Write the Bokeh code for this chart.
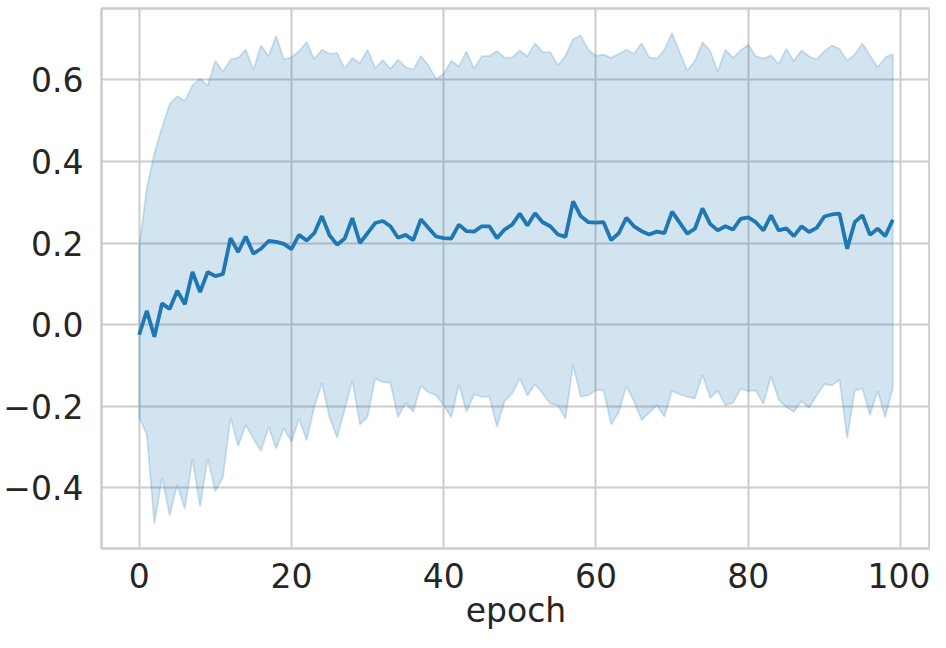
from bokeh.plotting import figure
from bokeh.models import FixedTicker, Range1d
from bokeh.embed import file_html
from bokeh.resources import INLINE

epochs = list(range(100))

mean = [-0.025, 0.034, -0.030, 0.052, 0.038, 0.083, 0.050, 0.129, 0.080, 0.129,
        0.119, 0.124, 0.212, 0.178, 0.216, 0.174, 0.186, 0.205, 0.203, 0.198,
        0.185, 0.220, 0.206, 0.224, 0.266, 0.219, 0.196, 0.211, 0.261, 0.200,
        0.224, 0.249, 0.254, 0.241, 0.213, 0.220, 0.207, 0.258, 0.237, 0.216,
        0.212, 0.211, 0.245, 0.229, 0.228, 0.241, 0.241, 0.212, 0.233, 0.245,
        0.272, 0.243, 0.273, 0.251, 0.241, 0.221, 0.215, 0.302, 0.266, 0.251,
        0.250, 0.251, 0.207, 0.224, 0.262, 0.241, 0.229, 0.221, 0.228, 0.224,
        0.277, 0.250, 0.223, 0.235, 0.285, 0.247, 0.231, 0.241, 0.233, 0.259,
        0.263, 0.251, 0.231, 0.268, 0.231, 0.236, 0.217, 0.241, 0.227, 0.237,
        0.265, 0.270, 0.272, 0.186, 0.251, 0.268, 0.220, 0.235, 0.217, 0.257]

upper = [0.190, 0.335, 0.420, 0.483, 0.541, 0.560, 0.548, 0.587, 0.603, 0.586,
         0.647, 0.620, 0.650, 0.654, 0.674, 0.625, 0.684, 0.658, 0.708, 0.650,
         0.655, 0.670, 0.693, 0.651, 0.674, 0.664, 0.666, 0.628, 0.654, 0.641,
         0.674, 0.628, 0.649, 0.627, 0.650, 0.631, 0.625, 0.659, 0.635, 0.602,
         0.615, 0.647, 0.633, 0.670, 0.627, 0.658, 0.659, 0.671, 0.654, 0.655,
         0.672, 0.658, 0.690, 0.668, 0.668, 0.636, 0.659, 0.700, 0.709, 0.674,
         0.659, 0.662, 0.654, 0.664, 0.674, 0.664, 0.690, 0.655, 0.652, 0.674,
         0.715, 0.668, 0.623, 0.646, 0.692, 0.672, 0.620, 0.674, 0.654, 0.672,
         0.686, 0.658, 0.652, 0.660, 0.639, 0.676, 0.646, 0.672, 0.658, 0.650,
         0.671, 0.684, 0.676, 0.647, 0.662, 0.689, 0.660, 0.631, 0.655, 0.663]

lower = [-0.228, -0.269, -0.489, -0.375, -0.468, -0.393, -0.452, -0.330, -0.446, -0.328,
         -0.409, -0.375, -0.228, -0.298, -0.246, -0.280, -0.310, -0.251, -0.304, -0.254,
         -0.287, -0.231, -0.284, -0.202, -0.144, -0.227, -0.277, -0.208, -0.137, -0.245,
         -0.226, -0.132, -0.141, -0.143, -0.227, -0.192, -0.214, -0.150, -0.166, -0.173,
         -0.198, -0.227, -0.147, -0.214, -0.171, -0.177, -0.177, -0.251, -0.188, -0.169,
         -0.132, -0.174, -0.146, -0.169, -0.194, -0.198, -0.231, -0.098, -0.177, -0.173,
         -0.161, -0.161, -0.245, -0.215, -0.151, -0.188, -0.234, -0.216, -0.198, -0.226,
         -0.162, -0.171, -0.177, -0.181, -0.123, -0.180, -0.162, -0.198, -0.192, -0.158,
         -0.163, -0.162, -0.194, -0.127, -0.184, -0.202, -0.214, -0.188, -0.204, -0.174,
         -0.146, -0.149, -0.135, -0.279, -0.162, -0.157, -0.222, -0.163, -0.227, -0.155]

x_ticks = [0, 20, 40, 60, 80, 100]
y_ticks = [-0.4, -0.2, 0.0, 0.2, 0.4, 0.6]
y_tick_labels = ["\u22120.4", "\u22120.2", "0.0", "0.2", "0.4", "0.6"]
x_label = "epoch"

BLUE = "#1f77b4"
GRID = "#cccccc"
TEXT = "#262626"
FONT = "DejaVu Sans"

p = figure(width=930, height=632, output_backend="svg", toolbar_location=None,
           min_border_left=99, min_border_right=0, min_border_top=8, min_border_bottom=82,
           x_range=Range1d(-4.95, 103.95), y_range=Range1d(-0.549, 0.775))

p.background_fill_color = "white"
p.border_fill_color = "white"
p.outline_line_color = GRID
p.outline_line_width = 2.5

# confidence band (closed polygon, as matplotlib's fill_between)
band_x = epochs + epochs[::-1]
band_y = upper + lower[::-1]
p.patch(band_x, band_y, fill_color=BLUE, fill_alpha=0.2,
        line_color=BLUE, line_alpha=0.2, line_width=1.8)

p.line(epochs, mean, line_color=BLUE, line_width=3.8)

for ax in (p.xaxis, p.yaxis):
    ax.axis_line_color = None
    ax.major_tick_line_color = None
    ax.minor_tick_line_color = None
    ax.major_label_text_font = FONT
    ax.major_label_text_font_size = "33px"
    ax.major_label_text_color = TEXT

p.xaxis.ticker = FixedTicker(ticks=x_ticks)
p.yaxis.ticker = FixedTicker(ticks=y_ticks)
p.yaxis.major_label_overrides = {v: s for v, s in zip(y_ticks, y_tick_labels)}
p.xaxis.major_label_standoff = 8
p.yaxis.major_label_standoff = 12

p.xaxis.axis_label = x_label
p.xaxis.axis_label_text_font = FONT
p.xaxis.axis_label_text_font_size = "33px"
p.xaxis.axis_label_text_font_style = "normal"
p.xaxis.axis_label_text_color = TEXT
p.xaxis.axis_label_standoff = 0

p.xgrid.grid_line_color = GRID
p.ygrid.grid_line_color = GRID
p.xgrid.grid_line_width = 2
p.ygrid.grid_line_width = 2

open("out.html", "w").write(file_html(p, INLINE))
